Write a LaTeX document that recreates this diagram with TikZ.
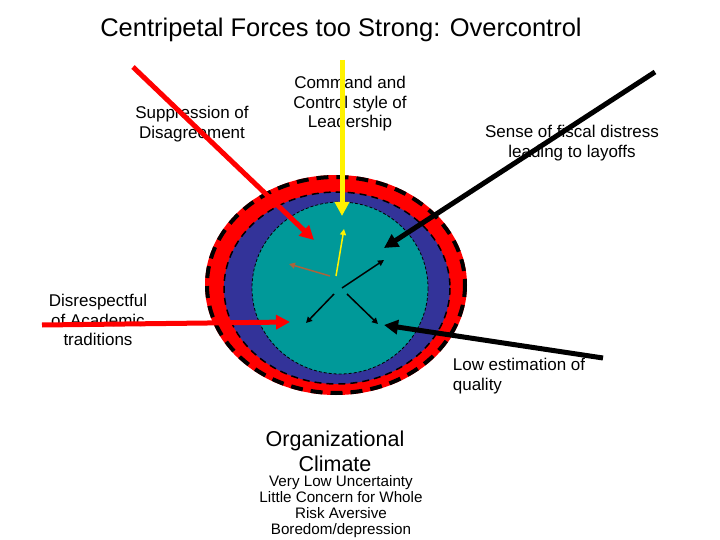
\documentclass[tikz,border=0pt]{standalone}
\usepackage{fontspec}
\setmainfont{Liberation Sans}
\usetikzlibrary{arrows.meta}
\definecolor{ringblue}{RGB}{51,51,153}
\definecolor{teal2}{RGB}{0,153,153}
\definecolor{brown2}{RGB}{170,100,60}
\begin{document}
\begin{tikzpicture}[x=1pt,y=-1pt,
 lbl/.style={font=\fontsize{17}{19.5}\selectfont,align=center,inner sep=0},
 big/.style={-{Triangle[length=14pt,width=14pt]},line width=5pt},
 small/.style={-{Triangle[length=6pt,width=6pt]},line width=1.5pt}]
\useasboundingbox (0,0) rectangle (720,540);
\fill[white] (0,0) rectangle (720,540);
\node[font=\fontsize{25.5}{30}\selectfont] (title) at (341,30) {Centripetal Forces too Strong: Overcontrol};
\fill[red] (336,285) ellipse [x radius=131,y radius=110];
\draw[black,line width=4pt,dash pattern=on 12pt off 8pt] (336,285) ellipse [x radius=129,y radius=108];
\fill[ringblue] (337,288) ellipse [x radius=113,y radius=96];
\draw[black,line width=1.5pt,dash pattern=on 7pt off 5pt] (337,288) ellipse [x radius=113,y radius=96];
\fill[teal2] (340,288) ellipse [x radius=88,y radius=86];
\draw[black,line width=0.8pt,dash pattern=on 3pt off 2pt] (340,288) ellipse [x radius=88,y radius=86];
\node[lbl] (sup) at (192,124) {Suppression of\\Disagreement};
\node[lbl] (cmd) at (350,104) {Command and\\Control style of\\Leadership};
\node[lbl] (fis) at (572,143) {Sense of fiscal distress\\leading to layoffs};
\node[lbl] (dis) at (98,320) {Disrespectful\\of Academic\\traditions};
\node[lbl,align=left] (low) at (519,376) {Low estimation of\\quality};
\node[font=\fontsize{21.5}{25}\selectfont,align=center] (org) at (335,451) {Organizational\\Climate};
\node[font=\fontsize{15.2}{16}\selectfont,align=center] (lst) at (341,507) {Very Low Uncertainty\\Little Concern for Whole\\Risk Aversive\\Boredom/depression};
\coordinate (a1) at (133,67); \coordinate (b1) at (314,240);
\draw[big,red] (a1) -- (b1);
\coordinate (a2) at (342,60); \coordinate (b2) at (342,216);
\draw[big,yellow] (a2) -- (b2);
\coordinate (a3) at (655,72); \coordinate (b3) at (384,248);
\draw[big,black] (a3) -- (b3);
\coordinate (a4) at (42,325); \coordinate (b4) at (290,322);
\draw[big,red] (a4) -- (b4);
\coordinate (a5) at (603,358); \coordinate (b5) at (384,325);
\draw[big,black] (a5) -- (b5);
\coordinate (s1) at (344,229); \coordinate (s2) at (289,264);
\coordinate (s3) at (384,260); \coordinate (s4) at (306,323); \coordinate (s5) at (378,324);
\draw[small,yellow] (336,276) -- (s1);
\draw[small,brown2] (330,276) -- (s2);
\draw[small,black] (342,288) -- (s3);
\draw[small,black] (334,294) -- (s4);
\draw[small,black] (347,294) -- (s5);
\end{tikzpicture}
\end{document}
